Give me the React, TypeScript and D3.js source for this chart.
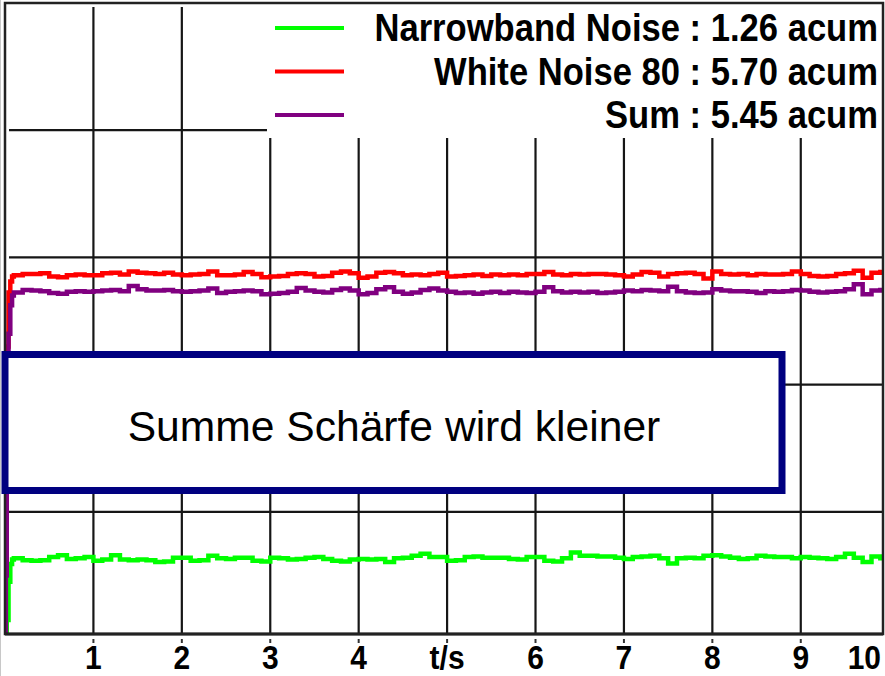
import React from "react";
import * as d3 from "d3";

// sampling instants (s): fast rise at the start, then every 0.1 s
const startTimes = [0, 0.01, 0.02, 0.04, 0.06, 0.08];
const times = [...startTimes, ...d3.range(1, 100).map((i) => i / 10), 9.94];

// sharpness in acum
const whiteNoise80 = [
  0.1, 2.5, 4.6, 5.45, 5.62, 5.7,
  5.72, 5.74, 5.74, 5.75, 5.7, 5.69, 5.72, 5.73, 5.72, 5.72,
  5.75, 5.76, 5.73, 5.78, 5.76, 5.75, 5.74, 5.76, 5.73, 5.72,
  5.73, 5.74, 5.78, 5.72, 5.72, 5.73, 5.77, 5.74, 5.69, 5.7,
  5.71, 5.74, 5.75, 5.74, 5.7, 5.71, 5.76, 5.78, 5.75, 5.68,
  5.7, 5.76, 5.77, 5.75, 5.72, 5.73, 5.72, 5.74, 5.76, 5.7,
  5.71, 5.72, 5.73, 5.71, 5.73, 5.72, 5.73, 5.72, 5.74, 5.74,
  5.77, 5.73, 5.72, 5.74, 5.73, 5.74, 5.74, 5.73, 5.72, 5.7,
  5.73, 5.77, 5.76, 5.7, 5.74, 5.75, 5.76, 5.74, 5.67, 5.78,
  5.74, 5.73, 5.74, 5.72, 5.74, 5.73, 5.73, 5.74, 5.78, 5.74,
  5.71, 5.7, 5.71, 5.74, 5.75, 5.79, 5.68, 5.76, 5.77,
  5.77,
];

const sumSeries = [
  0.05, 1.0, 2.5, 4.8, 5.25, 5.4,
  5.45, 5.49, 5.48, 5.47, 5.44, 5.43, 5.46, 5.47, 5.46, 5.47,
  5.48, 5.49, 5.47, 5.55, 5.5, 5.48, 5.48, 5.49, 5.47, 5.46,
  5.47, 5.48, 5.51, 5.44, 5.46, 5.47, 5.48, 5.47, 5.42, 5.43,
  5.44, 5.46, 5.52, 5.48, 5.46, 5.45, 5.49, 5.51, 5.48, 5.42,
  5.44, 5.5, 5.53, 5.46, 5.43, 5.45, 5.49, 5.51, 5.48, 5.46,
  5.44, 5.45, 5.43, 5.45, 5.46, 5.44, 5.46, 5.45, 5.44, 5.46,
  5.53, 5.47, 5.45, 5.46, 5.45, 5.46, 5.44, 5.45, 5.46, 5.48,
  5.47, 5.49, 5.48, 5.47, 5.54, 5.47, 5.45, 5.44, 5.45, 5.5,
  5.48, 5.47, 5.47, 5.46, 5.44, 5.47, 5.46, 5.47, 5.49, 5.48,
  5.46, 5.45, 5.46, 5.47, 5.5, 5.58, 5.42, 5.48, 5.49,
  5.49,
];

const narrowband = [
  0.0, 0.05, 0.3, 0.9, 1.18, 1.25,
  1.27, 1.24, 1.23, 1.24, 1.29, 1.32, 1.26, 1.27, 1.29, 1.23,
  1.25, 1.32, 1.25, 1.24, 1.25, 1.24, 1.21, 1.22, 1.28, 1.28,
  1.23, 1.24, 1.31, 1.27, 1.26, 1.28, 1.28, 1.23, 1.22, 1.28,
  1.27, 1.25, 1.26, 1.28, 1.29, 1.26, 1.23, 1.22, 1.25, 1.26,
  1.25, 1.26, 1.21, 1.27, 1.28, 1.31, 1.34, 1.29, 1.29, 1.23,
  1.24, 1.29, 1.3, 1.28, 1.28, 1.28, 1.26, 1.25, 1.29, 1.29,
  1.23, 1.22, 1.27, 1.36, 1.31, 1.31, 1.3, 1.3, 1.28, 1.26,
  1.29, 1.3, 1.31, 1.27, 1.19, 1.27, 1.28, 1.27, 1.31, 1.32,
  1.3, 1.28, 1.26, 1.27, 1.31, 1.3, 1.29, 1.29, 1.27, 1.29,
  1.28, 1.27, 1.26, 1.29, 1.34, 1.28, 1.21, 1.3, 1.27,
  1.28,
];

const legendLabels = [
  "Narrowband Noise : 1.26 acum",
  "White Noise 80 : 5.70 acum",
  "Sum : 5.45 acum",
];
const legendColors = ["#00ff00", "#ff0000", "#800080"];
const xTicks = [1, 2, 3, 4, 5, 6, 7, 8, 9, 10];
const xTickLabels = ["1", "2", "3", "4", "t/s", "6", "7", "8", "9", "10"];
const yGrid = [2, 4, 6, 8];
const boxText = "Summe Schärfe wird kleiner";

export default function App() {
  const width = 885;
  const height = 676;
  const left = 5;
  const right = 883;
  const top = 3;
  const bottom = 634;
  const gridColor = "#161616";

  const x = d3.scaleLinear().domain([0, 9.93]).range([left, right]);
  const y = d3.scaleLinear().domain([0.08, 10]).range([bottom, top]);

  const line = d3
    .line<number>()
    .x((d, i) => x(times[i]))
    .y((d) => y(d))
    .curve(d3.curveStepAfter);

  const series = [
    { values: whiteNoise80, color: legendColors[1] },
    { values: narrowband, color: legendColors[0] },
    { values: sumSeries, color: legendColors[2] },
  ];

  const font = "'Liberation Sans', Arial, sans-serif";

  return (
    <svg
      width={width}
      height={height}
      style={{ position: "absolute", left: 0, top: 0, background: "#fff" }}
    >
      <defs>
        <clipPath id="plotClip">
          <rect x={left} y={top} width={right - left} height={bottom - top} />
        </clipPath>
      </defs>
      <line x1={0.5} x2={0.5} y1={0} y2={height} stroke="#c8c8c8" strokeWidth={1} />

      {/* grid */}
      {xTicks.slice(0, 9).map((t) => (
        <line
          key={"vx" + t}
          x1={x(t)}
          x2={x(t)}
          y1={top + 4}
          y2={bottom}
          stroke={gridColor}
          strokeWidth={2.2}
        />
      ))}
      {yGrid.map((v) => (
        <line
          key={"hy" + v}
          x1={left + 4}
          x2={right}
          y1={y(v)}
          y2={y(v)}
          stroke={gridColor}
          strokeWidth={2.2}
        />
      ))}

      {/* curves */}
      <g clipPath="url(#plotClip)">
        {series.map((s, i) => (
          <path
            key={i}
            d={line(s.values) || ""}
            fill="none"
            stroke={s.color}
            strokeWidth={4.5}
            strokeLinejoin="miter"
          />
        ))}
      </g>

      {/* legend */}
      <rect x={267} y={top + 1} width={right - 267 - 1} height={134} fill="#fff" />
      {legendLabels.map((lab, i) => {
        const cy = 28 + i * 43.5;
        return (
          <g key={lab}>
            <line x1={275} x2={344} y1={cy} y2={cy} stroke={legendColors[i]} strokeWidth={4} />
            <text
              transform={`translate(878,${cy + 13}) scale(1,1.12)`}
              textAnchor="end"
              fontFamily={font}
              fontWeight="bold"
              fontSize={34.6}
              fill="#000"
            >
              {lab}
            </text>
          </g>
        );
      })}

      {/* frame */}
      <rect
        x={left}
        y={top}
        width={right - left}
        height={bottom - top}
        fill="none"
        stroke="#222"
        strokeWidth={2.5}
      />
      <line x1={left} x2={right} y1={bottom} y2={bottom} stroke="#222" strokeWidth={3} />

      {/* x ticks + labels */}
      {xTicks.map((t, i) => {
        const last = i === xTicks.length - 1;
        const tx = last ? right - 2 : x(t);
        return (
          <g key={"t" + t}>
            {!last && (
              <line x1={x(t)} x2={x(t)} y1={bottom + 5} y2={bottom + 9} stroke="#333" strokeWidth={2} />
            )}
            <text
              transform={`translate(${tx},${669}) scale(1,1.12)`}
              textAnchor={last ? "end" : "middle"}
              fontFamily={font}
              fontWeight="bold"
              fontSize={30}
              fill="#000"
            >
              {xTickLabels[i]}
            </text>
          </g>
        );
      })}

      {/* annotation box */}
      <rect x={5} y={354.5} width={777} height={136} fill="#fff" stroke="#000080" strokeWidth={7} />
      <text
        x={394}
        y={441}
        textAnchor="middle"
        fontFamily={font}
        fontSize={42.6}
        fill="#000"
      >
        {boxText}
      </text>
    </svg>
  );
}
